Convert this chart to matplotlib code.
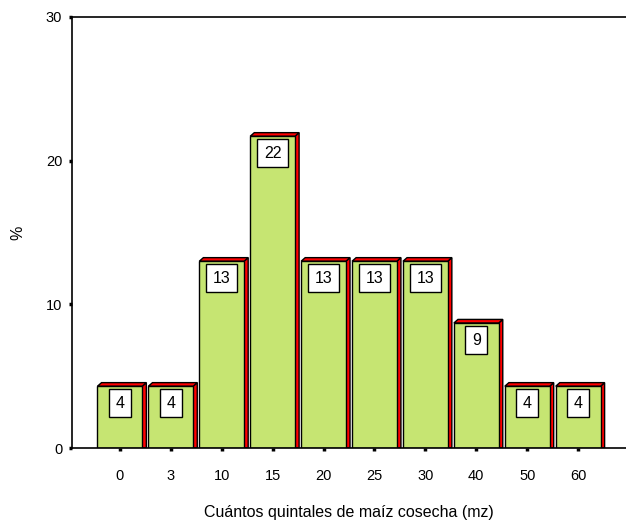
import numpy as np
import matplotlib
matplotlib.use('Agg')
import matplotlib.pyplot as plt
from matplotlib.patches import Polygon

# categories on the x axis (quintales)
categories = ['0', '3', '10', '15', '20', '25', '30', '40', '50', '60']
# percent of cases in each category
percents = [4.3, 4.3, 13.0, 21.7, 13.0, 13.0, 13.0, 8.7, 4.3, 4.3]

y_ticks = [0, 10, 20, 30]
x_title = 'Cuántos quintales de maíz cosecha (mz)'
y_title = '%'

FRONT = '#C6E572'
SIDE = '#FF0000'
BAR_W = 0.88
DEPTH_X = 0.08   # depth of the fake 3d side, in category units
DEPTH_Y = 0.25   # depth of the fake 3d top, in percent units

plt.rcParams['font.family'] = ['Liberation Sans', 'DejaVu Sans']

fig = plt.figure(figsize=(6.26, 5.23), dpi=100)
ax = fig.add_axes([72 / 626, 75 / 523, 554 / 626, 431 / 523])

xs = np.arange(len(categories))
bars = ax.bar(xs, percents, width=BAR_W, color=FRONT, edgecolor='black',
              linewidth=1, zorder=3)

# side and top faces
for b in bars:
    x0 = b.get_x()
    x1 = x0 + b.get_width()
    h = b.get_height()
    side = Polygon([(x1, 0), (x1 + DEPTH_X, 0), (x1 + DEPTH_X, h + DEPTH_Y), (x1, h)],
                   closed=True, facecolor=SIDE, edgecolor='black', linewidth=1, zorder=2)
    top = Polygon([(x0, h), (x0 + DEPTH_X, h + DEPTH_Y), (x1 + DEPTH_X, h + DEPTH_Y), (x1, h)],
                  closed=True, facecolor=SIDE, edgecolor='black', linewidth=1, zorder=2)
    ax.add_patch(side)
    ax.add_patch(top)
    ax.annotate('{:.0f}'.format(h), (b.get_x() + b.get_width() / 2, h),
                xytext=(0, -17), textcoords='offset pixels', ha='center', va='center',
                fontsize=11.5, zorder=5,
                bbox=dict(boxstyle='square,pad=0.4', facecolor='white',
                          edgecolor='black', linewidth=1))

ax.set_xlim(-0.94, len(categories) - 1 + 0.94)
ax.set_ylim(0, 30)
ax.set_xticks(xs)
ax.set_xticklabels(categories)
ax.set_yticks(y_ticks)

ax.spines['right'].set_visible(False)
for s in ['left', 'top', 'bottom']:
    ax.spines[s].set_linewidth(1.2)
    ax.spines[s].set_zorder(6)

ax.tick_params(axis='x', direction='out', length=2.5, width=2.5, pad=12.5, labelsize=10.5)
ax.tick_params(axis='y', direction='out', length=2.5, width=2.5, pad=4.5, labelsize=10.5)

ax.set_xlabel(x_title, fontsize=11.5, va='center')
ax.xaxis.set_label_coords(0.5, (448 - 513) / 431)
ax.set_ylabel(y_title, fontsize=11.5, va='center')
ax.yaxis.set_label_coords((18 - 72) / 554, 0.5)

fig.savefig('out.png', dpi=100)
